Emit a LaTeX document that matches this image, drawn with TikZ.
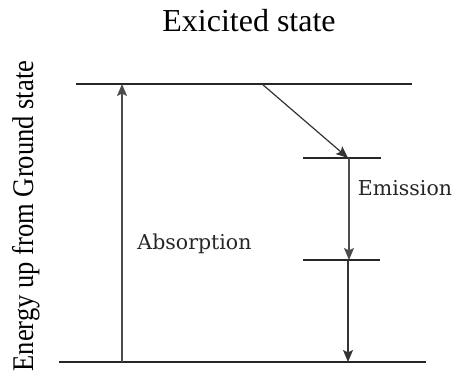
\documentclass[tikz,border=0pt]{standalone}
\usepackage{fontspec}
\newfontfamily\tnr{Liberation Serif}
\newfontfamily\dvs{DejaVu Serif}
\usetikzlibrary{arrows.meta}
\tikzset{
  level/.style={line width=1.3pt, draw=black!85},
  trans/.style={line width=1.1pt, draw=black!70, -{Stealth[length=12pt,width=10pt,inset=2.5pt]}},
  transdark/.style={line width=1.2pt, draw=black!80, -{Stealth[length=12pt,width=10pt,inset=2.5pt]}},
  lbl/.style={inner sep=0pt, anchor=base, text=black!85, font=\dvs\fontsize{20.5}{23}\selectfont}
}
\begin{document}
\begin{tikzpicture}[x=1pt,y=-1pt]
\useasboundingbox (0,0) rectangle (454,379);
% title
\node[inner sep=0pt, anchor=base, font=\tnr\fontsize{32}{36}\selectfont] (title) at (249,32) {Exicited state};
% side label
\node[inner sep=0pt, anchor=base, rotate=90, font=\tnr\fontsize{30}{34}\selectfont] (ylab) at (33,216) {\scalebox{0.885}[1]{Energy up from Ground state}};
% levels
\coordinate (tL) at (76,84);  \coordinate (tR) at (412,84);
\coordinate (bL) at (59,362); \coordinate (bR) at (426,362);
\coordinate (m1L) at (303,158); \coordinate (m1R) at (381,158);
\coordinate (m2L) at (303,260); \coordinate (m2R) at (380,260);
\draw[level] (tL) -- (tR);
\draw[level] (bL) -- (bR);
\draw[level] (m1L) -- (m1R);
\draw[level] (m2L) -- (m2R);
% arrow anchors
\coordinate (a0) at (122,362); \coordinate (a1) at (122,84);
\coordinate (d0) at (262,84);  \coordinate (d1) at (348,158);
\coordinate (e0) at (349,158); \coordinate (e1) at (349,260);
\coordinate (f0) at (348,260); \coordinate (f1) at (348,362);
\draw[trans] (a0) -- (a1);
\draw[transdark] (d0) -- (d1);
\draw[trans] (e0) -- (e1);
\draw[transdark] (f0) -- (f1);
% labels
\node[lbl] (abs) at (194.5,249) {Absorption};
\node[lbl] (emi) at (405,195) {Emission};
\end{tikzpicture}
\end{document}
